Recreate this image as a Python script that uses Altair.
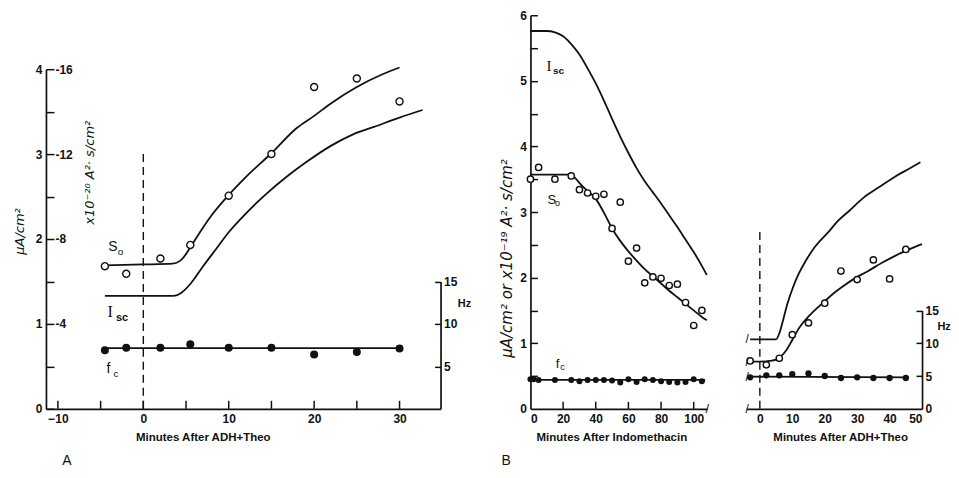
import altair as alt
import pandas as pd

# ======================= DATA =======================
# Panel A  (minutes after ADH+Theo); S0 / Isc in left-axis units (μA/cm²; S0 scale = x4 in 10^-20 A²·s/cm²)
A_S0_T = [-4.5, -2, 2, 5.5, 10, 15, 20, 25, 30]
A_S0 = [1.68, 1.59, 1.77, 1.93, 2.51, 3.00, 3.79, 3.89, 3.62]
A_S0_FIT_T = [-4.5, 0, 3.4, 4.5, 5.5, 6.5, 8, 10, 12, 15, 18, 20, 22, 25, 28, 30]
A_S0_FIT = [1.69, 1.70, 1.71, 1.76, 1.90, 2.06, 2.28, 2.52, 2.73, 3.01, 3.31, 3.45, 3.60, 3.79, 3.94, 4.02]
A_ISC_FIT_T = [-4.5, 3.5, 4.5, 5.5, 7, 8.5, 10, 12, 14.5, 17, 19, 22, 24.5, 27, 30, 32.7]
A_ISC_FIT = [1.33, 1.33, 1.37, 1.47, 1.68, 1.88, 2.08, 2.30, 2.54, 2.75, 2.90, 3.10, 3.23, 3.32, 3.43, 3.52]
A_FC_T = [-4.5, -2, 2, 5.5, 10, 15, 20, 25, 30]
A_FC_HZ = [6.9, 7.2, 7.2, 7.6, 7.2, 7.2, 6.4, 6.7, 7.1]
A_FC_FIT_T = [-4.5, 30]
A_FC_FIT_HZ = [7.15, 7.15]
A_XTICKS = [-10, -5, 0, 5, 10, 15, 20, 25, 30]

# Panel B left (minutes after indomethacin)
BL_S0_T = [0, 5, 15, 25, 30, 35, 40, 45, 50, 55, 60, 65, 70, 75, 80, 85, 90, 95, 100, 105]
BL_S0 = [3.50, 3.68, 3.50, 3.55, 3.34, 3.29, 3.24, 3.27, 2.75, 3.15, 2.25, 2.45, 1.92, 2.01, 1.99, 1.88, 1.90, 1.62, 1.27, 1.50]
BL_S0_FIT_T = [0, 10, 25, 28, 32, 36, 40, 45, 50, 55, 60, 65, 70, 75, 80, 85, 90, 95, 100, 105, 108]
BL_S0_FIT = [3.57, 3.57, 3.57, 3.50, 3.39, 3.30, 3.20, 2.99, 2.75, 2.56, 2.40, 2.26, 2.13, 2.02, 1.91, 1.80, 1.70, 1.60, 1.50, 1.40, 1.35]
BL_ISC_FIT_T = [0, 10, 15, 20, 25, 30, 35, 40, 45, 50, 55, 60, 65, 70, 75, 80, 85, 90, 95, 100, 105, 108]
BL_ISC_FIT = [5.76, 5.76, 5.74, 5.68, 5.56, 5.40, 5.19, 4.96, 4.70, 4.42, 4.15, 3.90, 3.67, 3.47, 3.30, 3.13, 2.95, 2.77, 2.58, 2.39, 2.18, 2.04]
BL_FC_T = [0, 2, 5, 15, 25, 30, 35, 40, 45, 50, 55, 60, 65, 70, 75, 80, 85, 90, 95, 100, 105]
BL_FC_HZ = [4.5, 4.5, 4.4, 4.4, 4.4, 4.2, 4.4, 4.4, 4.4, 4.3, 4.0, 4.5, 4.1, 4.5, 4.4, 4.2, 4.1, 4.0, 4.1, 4.5, 4.2]
BL_FC_FIT_T = [0, 107]
BL_FC_FIT_HZ = [4.4, 4.4]
BL_XTICKS = [20, 40, 60, 80, 100]

# Panel B right (minutes after ADH+Theo)
BR_S0_T = [-3, 2, 6, 10, 15, 20, 25, 30, 35, 40, 45]
BR_S0 = [0.73, 0.67, 0.77, 1.13, 1.31, 1.61, 2.10, 1.97, 2.27, 1.98, 2.43]
BR_S0_FIT_T = [-3, 0, 3, 5, 6.5, 8.1, 10, 12.2, 14.5, 17.3, 20, 22.5, 26, 29.6, 33, 37.8, 42, 46, 50]
BR_S0_FIT = [0.72, 0.72, 0.73, 0.75, 0.80, 0.89, 1.05, 1.24, 1.38, 1.52, 1.64, 1.75, 1.88, 2.00, 2.09, 2.23, 2.34, 2.43, 2.51]
BR_ISC_FIT_T = [-3, 5, 6, 7.1, 8.5, 10.2, 12, 14.2, 17, 21.4, 24, 27.6, 32, 36.8, 42, 46, 49.5]
BR_ISC_FIT = [1.06, 1.06, 1.15, 1.34, 1.60, 1.85, 2.06, 2.26, 2.47, 2.71, 2.86, 3.02, 3.22, 3.38, 3.55, 3.66, 3.76]
BR_FC_T = [-3, 2, 6, 10, 15, 20, 25, 30, 35, 40, 45]
BR_FC_HZ = [4.8, 5.1, 5.1, 5.3, 5.4, 5.0, 4.7, 4.8, 4.7, 4.7, 4.7]
BR_FC_FIT_T = [-3, 46]
BR_FC_FIT_HZ = [4.9, 4.8]

# ======================= STYLE =======================
INK = "#111111"
FONT = "Liberation Sans"
SUPFONT = "DejaVu Sans"
H = 394
WA, WBL, WBR = 395, 177, 176
XDOM_A, XDOM_BL, XDOM_BR = [-11.4, 34.8], [0, 108.3], [-4.2, 50]
YRANGE_A = [H, H - 340]          # 0..4 μA/cm² drawn over 340 px
HZ_RANGE_A = [H, H - 127.5]      # 0..15 Hz
HZ_RANGE_B = [H, H - 98.5]

AX = dict(grid=False, domainColor=INK, domainWidth=1.7, tickColor=INK, tickWidth=1.5,
          labelColor=INK, labelFont=FONT, labelFontSize=12, labelFontWeight="bold",
          titleColor=INK)


def sc(dom, rng=None):
    if rng is None:
        return alt.Scale(domain=dom, nice=False, zero=False)
    return alt.Scale(domain=dom, range=rng, nice=False, zero=False)


def lines(t, v, X, Y, width=1.8):
    return alt.Chart(pd.DataFrame({"t": t, "v": v})).mark_line(
        color=INK, strokeWidth=width, interpolate="monotone").encode(x=X, y=Y)


def open_pts(t, v, X, Y, size):
    return alt.Chart(pd.DataFrame({"t": t, "v": v})).mark_point(
        shape="circle", size=size, filled=True, fill="white", stroke=INK,
        strokeWidth=1.4, opacity=1).encode(x=X, y=Y)


def dots(t, v, X, Y, size):
    return alt.Chart(pd.DataFrame({"t": t, "v": v})).mark_circle(
        size=size, color=INK, opacity=1).encode(x=X, y=Y)


def texts(t, v, s, X, Y, **kw):
    return alt.Chart(pd.DataFrame({"t": t, "v": v, "s": s})).mark_text(
        color=INK, baseline="middle", **kw).encode(x=X, y=Y, text="s:N")


def dashed(t, v0, v1, X, Y):
    return alt.Chart(pd.DataFrame({"t": [t], "v": [v0], "v2": [v1]})).mark_rule(
        color=INK, strokeWidth=1.4, strokeDash=[8, 5]).encode(x=X, y=Y, y2="v2:Q")


def xticks(vals, X, Y, size=8):
    # inward ticks on the time axis
    return alt.Chart(pd.DataFrame({"t": vals, "v": [0] * len(vals)})).mark_tick(
        orient="vertical", size=size, thickness=1.5, color=INK, yOffset=-size / 2,
        opacity=1).encode(x=X, y=Y)


def y_axis_only(t0, X, dom, rng, axis):
    return alt.Chart(pd.DataFrame({"t": [t0], "v": [dom[0]]})).mark_point(opacity=0).encode(
        x=X, y=alt.Y("v:Q", scale=sc(dom, rng), axis=axis))


def xtitle_axis(values, title, title_x):
    return alt.Axis(values=values, ticks=False, labelPadding=5, title=title, titleFont=FONT,
                    titleFontSize=11.5, titleFontWeight="bold", titlePadding=7,
                    titleX=title_x, **AX)


# ======================= PANEL A =======================
XA = alt.X("t:Q", scale=sc(XDOM_A),
           axis=xtitle_axis([-10, 0, 10, 20, 30], "Minutes After ADH+Theo", 157))
YA = alt.Y("v:Q", scale=sc([0, 4], YRANGE_A),
           axis=alt.Axis(values=[0, 1, 2, 3, 4], ticks=False, labelPadding=4,
                         title="μA/cm²", titleFont=SUPFONT, titleFontSize=13,
                         titleFontStyle="italic", titleFontWeight="normal", titlePadding=9,
                         titleY=216, **AX))
mainA = alt.layer(
    xticks(A_XTICKS, XA, YA),
    dashed(0, 0, 3.0, XA, YA),
    lines(A_ISC_FIT_T, A_ISC_FIT, XA, YA),
    lines(A_S0_FIT_T, A_S0_FIT, XA, YA),
    open_pts(A_S0_T, A_S0, XA, YA, 50),
    texts([-4.1], [1.90], ["S"], XA, YA, font=FONT, fontSize=14, align="left"),
    texts([-3.0], [1.85], ["o"], XA, YA, font=FONT, fontSize=10, align="left"),
    texts([-4.2], [1.14], ["I"], XA, YA, font="Liberation Serif", fontSize=16, align="left"),
    texts([-3.2], [1.07], ["sc"], XA, YA, font=FONT, fontSize=11, fontWeight="bold", align="left"),
    texts([-4.3], [0.47], ["f"], XA, YA, font=FONT, fontSize=14, align="left"),
    texts([-3.5], [0.41], ["c"], XA, YA, font=FONT, fontSize=10, align="left"),
    texts([-6.3], [2.78], ["x10⁻²⁰ A²· s/cm²"], XA, YA, font=SUPFONT, fontSize=13,
          fontStyle="italic", angle=270, align="center"),
    texts([-8.95], [-0.62], ["A"], XA, YA, font=FONT, fontSize=14, align="center"),
)
ytA = y_axis_only(XDOM_A[0], XA, [0, 4], YRANGE_A, alt.Axis(
    orient="right", offset=-WA, values=[0, 0.5, 1, 1.5, 2, 2.5, 3, 3.5, 4], tickSize=8,
    domain=False, labelPadding=1, title=None,
    labelExpr="datum.value >= 1 && datum.value % 1 == 0 ? '-' + format(datum.value * 4, 'd') : ''",
    **AX))
YA_h = alt.Y("v:Q", scale=sc([0, 15], HZ_RANGE_A),
             axis=alt.Axis(orient="right", values=[5, 10, 15], ticks=False, labelPadding=3,
                           title=None, **AX))
hzA = alt.layer(
    lines(A_FC_FIT_T, A_FC_FIT_HZ, XA, YA_h),
    dots(A_FC_T, A_FC_HZ, XA, YA_h, 64),
    texts([37.6], [12.4], ["Hz"], XA, YA_h, font=FONT, fontSize=11, fontWeight="bold", align="center"),
)
hztA = y_axis_only(XDOM_A[0], XA, [0, 15], HZ_RANGE_A, alt.Axis(
    orient="left", offset=-WA, values=[5, 10, 15], tickSize=6, labels=False, domain=False,
    title=None, **AX))
panelA = alt.layer(mainA, ytA, hzA, hztA).resolve_scale(y="independent").properties(
    width=WA, height=H)

# ======================= PANEL B left =======================
XBL = alt.X("t:Q", scale=sc(XDOM_BL),
            axis=xtitle_axis([0, 20, 40, 60, 80, 100], "Minutes After Indomethacin", 81))
YBL = alt.Y("v:Q", scale=sc([0, 6]),
            axis=alt.Axis(values=[0, 1, 2, 3, 4, 5, 6], ticks=False, labelPadding=4,
                          title="μA/cm²  or  x10⁻¹⁹  A²· s/cm²", titleFont=SUPFONT,
                          titleFontSize=15, titleFontStyle="italic", titleFontWeight="normal",
                          titlePadding=5, titleY=243, **AX))
mainBL = alt.layer(
    xticks(BL_XTICKS, XBL, YBL, 7),
    lines(BL_ISC_FIT_T, BL_ISC_FIT, XBL, YBL),
    lines(BL_S0_FIT_T, BL_S0_FIT, XBL, YBL),
    open_pts(BL_S0_T, BL_S0, XBL, YBL, 40),
    texts([9.8], [5.23], ["I"], XBL, YBL, font="Liberation Serif", fontSize=15, align="left"),
    texts([13.8], [5.15], ["sc"], XBL, YBL, font=FONT, fontSize=10, fontWeight="bold", align="left"),
    texts([10.5], [3.19], ["S"], XBL, YBL, font=FONT, fontSize=13, align="left"),
    texts([15.0], [3.13], ["o"], XBL, YBL, font=FONT, fontSize=9, align="left"),
    texts([15.5], [0.68], ["f"], XBL, YBL, font=FONT, fontSize=13, align="left"),
    texts([18.3], [0.63], ["c"], XBL, YBL, font=FONT, fontSize=9, align="left"),
    texts([108.3], [0.0], ["/"], XBL, YBL, font=FONT, fontSize=13, align="center"),
    texts([-14.9], [-0.79], ["B"], XBL, YBL, font=FONT, fontSize=14, align="center"),
)
ytBL = y_axis_only(0, XBL, [0, 6], None, alt.Axis(
    orient="right", offset=-WBL, values=[i * 0.5 for i in range(1, 13)], tickSize=7,
    domain=False, labels=False, title=None, **AX))
YBL_h = alt.Y("v:Q", scale=sc([0, 15], HZ_RANGE_B), axis=None)
hzBL = alt.layer(
    lines(BL_FC_FIT_T, BL_FC_FIT_HZ, XBL, YBL_h),
    dots(BL_FC_T, BL_FC_HZ, XBL, YBL_h, 36),
)
panelBL = alt.layer(mainBL, ytBL, hzBL).resolve_scale(y="independent").properties(
    width=WBL, height=H)

# ======================= PANEL B right =======================
XBR = alt.X("t:Q", scale=sc(XDOM_BR),
            axis=xtitle_axis([0, 10, 20, 30, 40, 50], "Minutes After ADH+Theo", 94))
YBR = alt.Y("v:Q", scale=sc([0, 6]), axis=None)
mainBR = alt.layer(
    dashed(0, 0, 2.7, XBR, YBR),
    lines(BR_ISC_FIT_T, BR_ISC_FIT, XBR, YBR),
    lines(BR_S0_FIT_T, BR_S0_FIT, XBR, YBR),
    open_pts(BR_S0_T, BR_S0, XBR, YBR, 40),
    texts([-3.9, -3.9, -3.9, -3.9], [0.0, 1.06, 0.72, 0.49], ["/", "/", "/", "/"], XBR, YBR,
          font=FONT, fontSize=12, align="center"),
)
YBR_h = alt.Y("v:Q", scale=sc([0, 15], HZ_RANGE_B),
              axis=alt.Axis(orient="right", values=[0, 5, 10, 15], ticks=False, labelPadding=3,
                            title=None, **AX))
hzBR = alt.layer(
    lines(BR_FC_FIT_T, BR_FC_FIT_HZ, XBR, YBR_h),
    dots(BR_FC_T, BR_FC_HZ, XBR, YBR_h, 40),
    texts([56.8], [12.4], ["Hz"], XBR, YBR_h, font=FONT, fontSize=11, fontWeight="bold", align="center"),
)
hztBR = y_axis_only(XDOM_BR[0], XBR, [0, 15], HZ_RANGE_B, alt.Axis(
    orient="left", offset=-WBR, values=[5, 10, 15], tickSize=6, labels=False, domain=False,
    title=None, **AX))
panelBR = alt.layer(mainBR, hzBR, hztBR).resolve_scale(y="independent").properties(
    width=WBR, height=H)

# ======================= LAYOUT =======================
panelB = alt.hconcat(panelBL, panelBR, spacing=39, bounds="flush")
chart = alt.hconcat(panelA, panelB, spacing=90, bounds="flush").properties(
    padding={"left": 5, "top": 1, "right": 0, "bottom": 0}
).configure(background="white").configure_view(stroke=None)

chart.save("out.html", embed_options={"renderer": "svg", "actions": False})
